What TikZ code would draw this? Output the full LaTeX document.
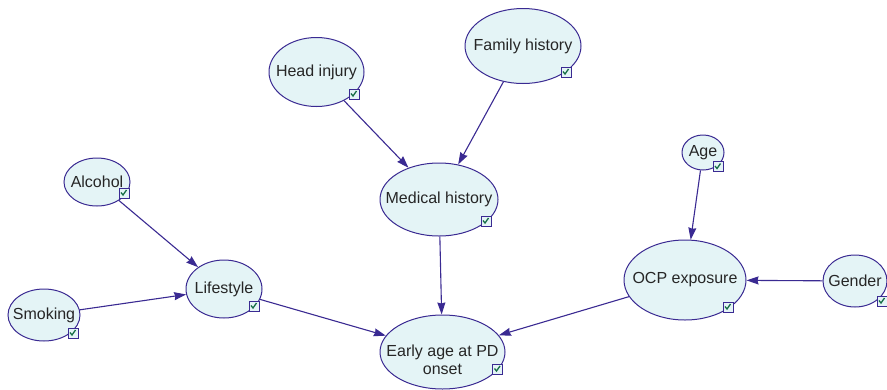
\documentclass[tikz,border=0pt]{standalone}
\usepackage{fontspec}
\setmainfont{Liberation Sans}
\usepackage{tikz}
\usetikzlibrary{arrows.meta,shapes.geometric}

\definecolor{nodeblue}{RGB}{58,42,146}
\definecolor{nodefill}{RGB}{228,244,246}
\definecolor{tickgreen}{RGB}{22,110,70}

\begin{document}
\begin{tikzpicture}[x=1pt,y=-1pt,>={Stealth[length=12pt,width=8pt,inset=1pt]},
  var/.style={ellipse,draw=nodeblue,line width=1pt,fill=nodefill,inner xsep=-40pt,inner ysep=-20pt,
    text=black!85,font=\fontsize{16}{18.5}\selectfont,align=center},
  chk/.style={draw=nodeblue,line width=0.9pt,fill=nodefill,minimum size=10pt,inner sep=0pt,
    path picture={\draw[tickgreen,line width=1.3pt]
      ([shift={(-3pt,0.5pt)}]path picture bounding box.center) -- ++(2pt,-2.5pt) -- ++(3.5pt,5pt);}},
  link/.style={->,draw=nodeblue,line width=1.1pt}]

    \useasboundingbox (0,0) rectangle (887,389);

    % variables
    \node[var,minimum width=116pt,minimum height=75pt] (fam) at (523,46) {Family history};
    \node[var,minimum width=95pt,minimum height=69pt] (head) at (316.5,72) {Head injury};
    \node[var,minimum width=118pt,minimum height=73pt] (med) at (439,199.5) {Medical history};
    \node[var,minimum width=66pt,minimum height=48pt] (alc) at (97,182) {Alcohol};
    \node[var,minimum width=42pt,minimum height=35pt] (age) at (703,152.5) {Age};
    \node[var,minimum width=76pt,minimum height=58pt] (life) at (224,289) {Lifestyle};
    \node[var,minimum width=122pt,minimum height=80pt] (ocp) at (685,280) {OCP exposure};
    \node[var,minimum width=64pt,minimum height=52pt] (gen) at (855,281) {Gender};
    \node[var,minimum width=72pt,minimum height=52pt] (smk) at (44,315) {Smoking};
    \node[var,minimum width=125pt,minimum height=74pt,text height=46pt] (early) at (442.5,352) {Early age at PD\\onset};

    % check boxes
    \node[chk] (famchk) at ([shift={(43,26)}]fam.center) {};
    \node[chk] (headchk) at ([shift={(37.5,22)}]head.center) {};
    \node[chk] (medchk) at ([shift={(47,21.5)}]med.center) {};
    \node[chk] (alcchk) at ([shift={(27,11)}]alc.center) {};
    \node[chk] (agechk) at ([shift={(15,14)}]age.center) {};
    \node[chk] (lifechk) at ([shift={(30,17)}]life.center) {};
    \node[chk] (ocpchk) at ([shift={(43,27)}]ocp.center) {};
    \node[chk] (genchk) at ([shift={(27,20)}]gen.center) {};
    \node[chk] (smkchk) at ([shift={(29,18)}]smk.center) {};
    \node[chk] (earlychk) at ([shift={(55,17)}]early.center) {};

    % links
    \draw[link] (head) -- (med);
    \draw[link] (fam) -- (med);
    \draw[link] (med) -- (early);
    \draw[link] (alc) -- (life);
    \draw[link] (smk) -- (life);
    \draw[link] (life) -- (early);
    \draw[link] (ocp) -- (early);
    \draw[link] (age) -- (ocp);
    \draw[link] (gen) -- (ocp);

\end{tikzpicture}
\end{document}
